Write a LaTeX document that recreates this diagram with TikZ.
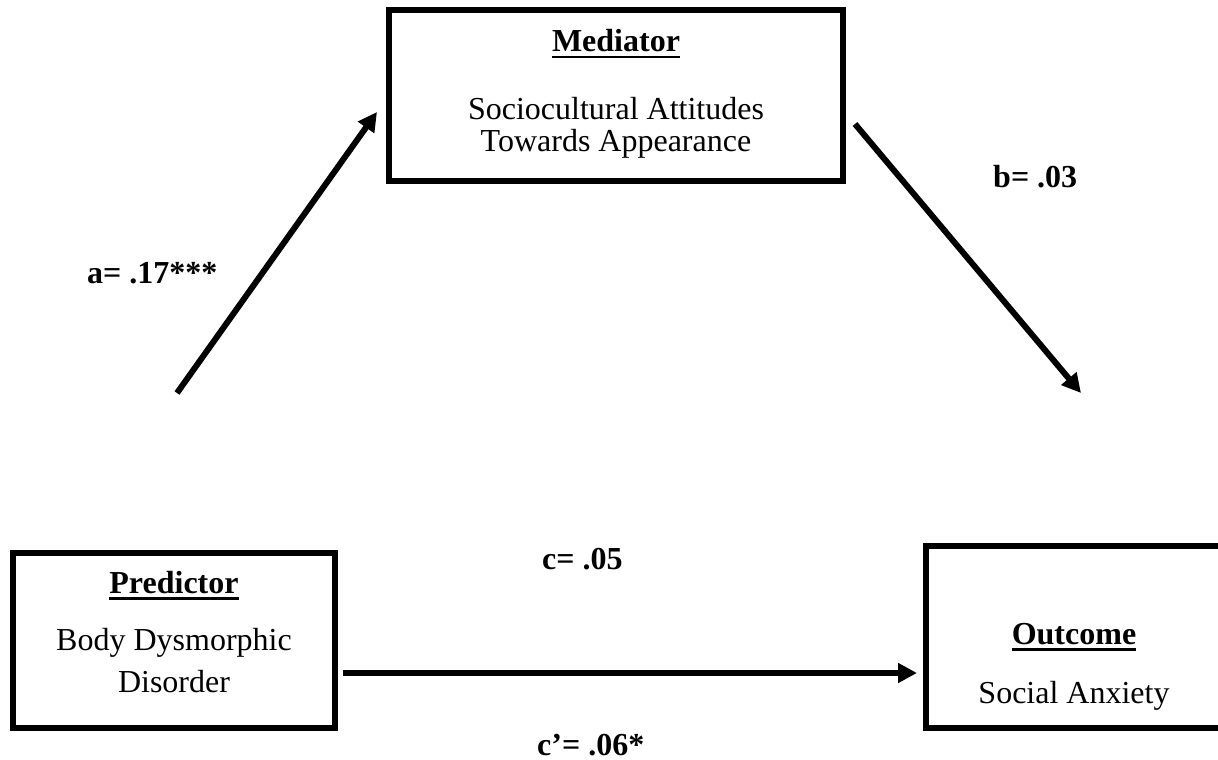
\documentclass[tikz,border=0pt]{standalone}
\usepackage{fontspec}
\setmainfont{Liberation Serif}
\usetikzlibrary{arrows.meta}
\newcommand{\myul}[1]{\setbox0\hbox{#1}\rlap{\rule[-6.5pt]{\wd0}{2.5pt}}\box0}
\begin{document}
\begin{tikzpicture}[x=1pt,y=-1pt,
  box/.style={draw=black, line width=6pt, inner sep=0pt, fill=white},
  txt/.style={anchor=base, inner sep=0pt, font=\fontsize{32}{32}\selectfont},
  lbl/.style={anchor=base west, inner sep=0pt, font=\fontsize{32}{32}\selectfont\bfseries},
  conn/.style={line width=6pt, -{Triangle[length=19pt, width=19pt]}}]
\useasboundingbox (0,0) rectangle (1218,760);
\clip (0,0) rectangle (1218,760);
\fill[white] (0,0) rectangle (1218,760);
% boxes
\node[box, minimum width=454pt, minimum height=171pt] (med) at (616,95.5) {};
\node[box, minimum width=322.5pt, minimum height=175pt] (pred) at (174,640.5) {};
\node[box, minimum width=297pt, minimum height=181.5pt] (out) at (1074,637) {};
% box texts
\node[txt] (medh) at (616,52) {\bfseries\myul{Mediator}};
\node[txt] (med1) at (616,119) {Sociocultural Attitudes};
\node[txt] (med2) at (616,151) {Towards Appearance};
\node[txt] (predh) at (174,593) {\bfseries\myul{Predictor}};
\node[txt] (pred1) at (174,650) {Body Dysmorphic};
\node[txt] (pred2) at (174,692) {Disorder};
\node[txt] (outh) at (1074,644) {\bfseries\myul{Outcome}};
\node[txt] (out1) at (1074,703) {Social Anxiety};
% labels
\node[lbl] (la) at (87,283) {a= .17***};
\node[lbl] (lb) at (993,187) {b= .03};
\node[lbl] (lc) at (542,569) {c= .05};
\node[lbl] (lcp) at (537,755) {c’= .06*};
% connector end points
\coordinate (a0) at (177,393);
\coordinate (a1) at (377,112);
\coordinate (b0) at (855,124);
\coordinate (b1) at (1081,393);
\coordinate (c0) at (343,673);
\coordinate (c1) at (917,673);
\draw[conn] (a0) -- (a1);
\draw[conn] (b0) -- (b1);
\draw[conn] (c0) -- (c1);
\end{tikzpicture}
\end{document}
